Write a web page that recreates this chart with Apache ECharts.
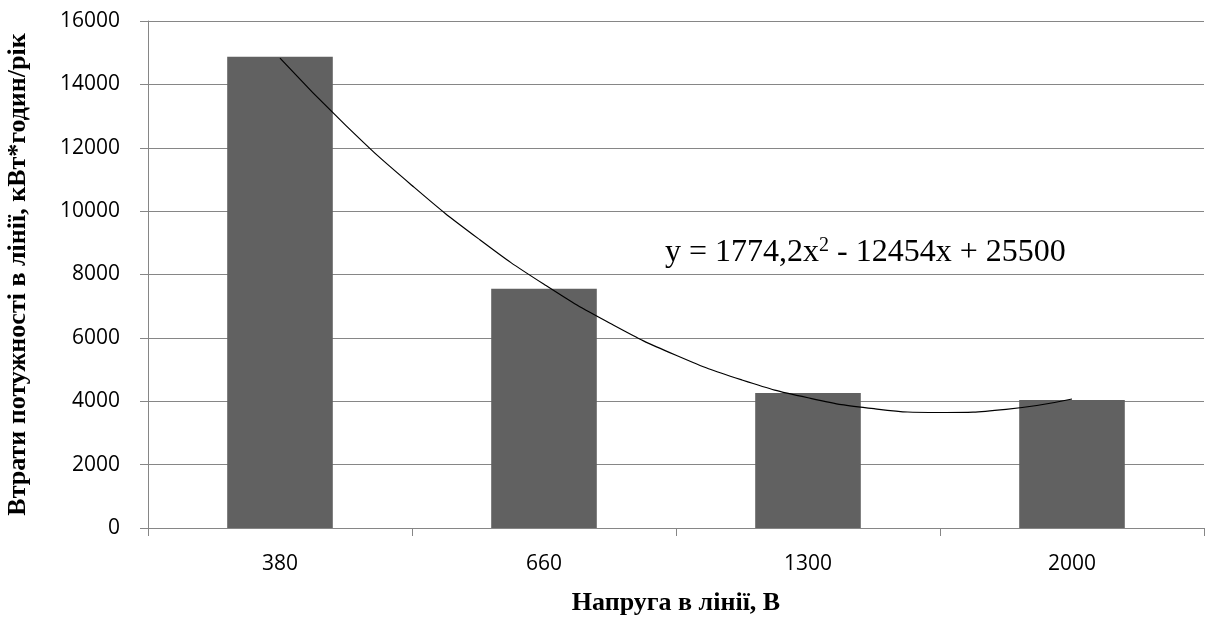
<!DOCTYPE html>
<html><head><meta charset="utf-8">
<script src="https://cdn.jsdelivr.net/npm/echarts@6/dist/echarts.min.js"></script>
<style>html,body{margin:0;padding:0;background:#fff}#c{width:1205px;height:619px}</style>
</head><body><div id="c"></div>
<script>
const categories = ['380', '660', '1300', '2000'];
const losses = [14870, 7550, 4260, 4040];
const trendX = [1.0, 1.25, 1.5, 1.75, 2.0, 2.25, 2.5, 2.75, 3.0, 3.25, 3.5, 3.75, 4.0];
const trendY = [14830, 12700, 10810, 9140, 7690, 6460, 5450, 4670, 4110, 3765, 3645, 3745, 4070];
const yTicks = { min: 0, max: 16000, interval: 2000 };
const equation = 'y = 1774,2x{s|2} - 12454x + 25500';

const chart = echarts.init(document.getElementById('c'), null, { renderer: 'canvas' });
const axisGrey = '#868686';
chart.setOption({
  animation: false,
  backgroundColor: '#fff',
  grid: { left: 148, right: 1, top: 21, bottom: 91, containLabel: false, outerBoundsMode: 'none' },
  xAxis: [{
    type: 'category', data: categories,
    axisLine: { lineStyle: { color: axisGrey, width: 1 } },
    axisTick: { show: true, length: 8, lineStyle: { color: axisGrey } },
    axisLabel: { color: '#000', fontFamily: 'Open Sans', fontSize: 21, margin: 26 },
    name: 'Напруга в лінії, В', nameLocation: 'middle', nameGap: 62,
    nameTextStyle: { fontFamily: 'Liberation Serif', fontWeight: 'bold', fontSize: 26, color: '#000' }
  }, {
    type: 'value', min: 0.5, max: 4.5, show: false
  }],
  yAxis: {
    type: 'value', min: yTicks.min, max: yTicks.max, interval: yTicks.interval,
    axisLine: { show: true, lineStyle: { color: axisGrey } },
    axisTick: { show: true, length: 8, lineStyle: { color: axisGrey } },
    splitLine: { lineStyle: { color: axisGrey, width: 1 } },
    axisLabel: { color: '#000', fontFamily: 'Open Sans', fontSize: 21, margin: 28, formatter: v => String(v) },
    name: 'Втрати потужності в лінії, кВт*годин/рік', nameLocation: 'middle', nameGap: 117,
    nameTextStyle: { fontFamily: 'Liberation Serif', fontWeight: 'bold', fontSize: 26, color: '#000' }
  },
  series: [{
    type: 'bar', data: losses, barWidth: '40%',
    itemStyle: { color: '#616161' }
  }, {
    type: 'line', xAxisIndex: 1, smooth: true, symbol: 'none',
    data: trendX.map((x, i) => [x, trendY[i]]),
    lineStyle: { color: '#000', width: 1.2 }, z: 5
  }],
  graphic: [{
    type: 'text', left: 665, top: 236, z: 10,
    style: {
      text: equation,
      font: '32px "Liberation Serif"', fill: '#000',
      rich: { s: { fontSize: 20, verticalAlign: 'top', padding: [0, 0, 14, 0], fontFamily: 'Liberation Serif' } }
    }
  }]
});
</script></body></html>
